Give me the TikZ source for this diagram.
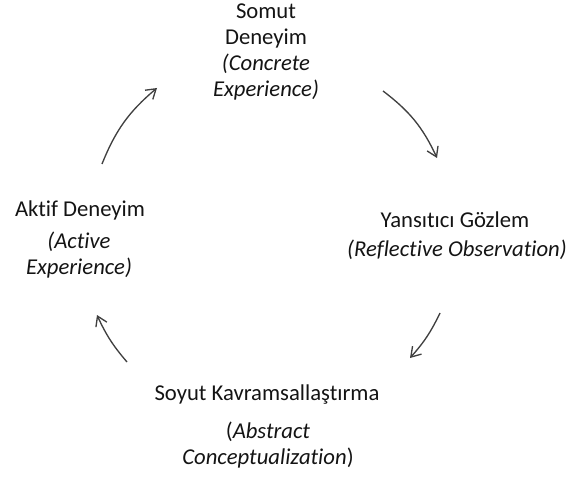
\documentclass[tikz,border=0pt]{standalone}
\usepackage{fontspec}
\setmainfont{Carlito}[Ligatures={NoCommon}]
\usetikzlibrary{arrows.meta}
\begin{document}
\begin{tikzpicture}[x=0.75pt,y=-0.75pt,
  lbl/.style={inner sep=0pt,align=center,text=black!92,font=\fontsize{17pt}{19.5pt}\selectfont},
  cyc/.style={draw=black!75,line width=1pt,-{Straight Barb[length=7pt,width=9pt]}}]
\useasboundingbox (0,0) rectangle (566,477);
\node[lbl] (ce) at (266,52) {Somut\\Deneyim\\\textit{(Concrete}\\\textit{Experience)}};
\node[lbl] (aet) at (80,210) {Aktif Deneyim};
\node[lbl] (aes) at (79,255) {\textit{(Active}\\\textit{Experience)}};
\node[lbl] (rot) at (455,220) {Yansıtıcı Gözlem};
\node[lbl] (ros) at (457,250) {\textit{(Reflective Observation)}};
\node[lbl] (act) at (267,395) {Soyut Kavramsallaştırma};
\node[lbl] (acs) at (268,445) {(\textit{Abstract}\\\textit{Conceptualization})};
\coordinate (a1s) at (102,164); \coordinate (a1e) at (157,88);
\coordinate (a2s) at (383,91);  \coordinate (a2e) at (437,158);
\coordinate (a3s) at (440,313); \coordinate (a3e) at (410,358);
\coordinate (a4s) at (127,362); \coordinate (a4e) at (97,315);
\draw[cyc] (a1s) to[bend left=14] (a1e);
\draw[cyc] (a2s) to[bend left=14] (a2e);
\draw[cyc] (a3s) to[bend left=8] (a3e);
\draw[cyc] (a4s) to[bend left=8] (a4e);
\end{tikzpicture}
\end{document}
